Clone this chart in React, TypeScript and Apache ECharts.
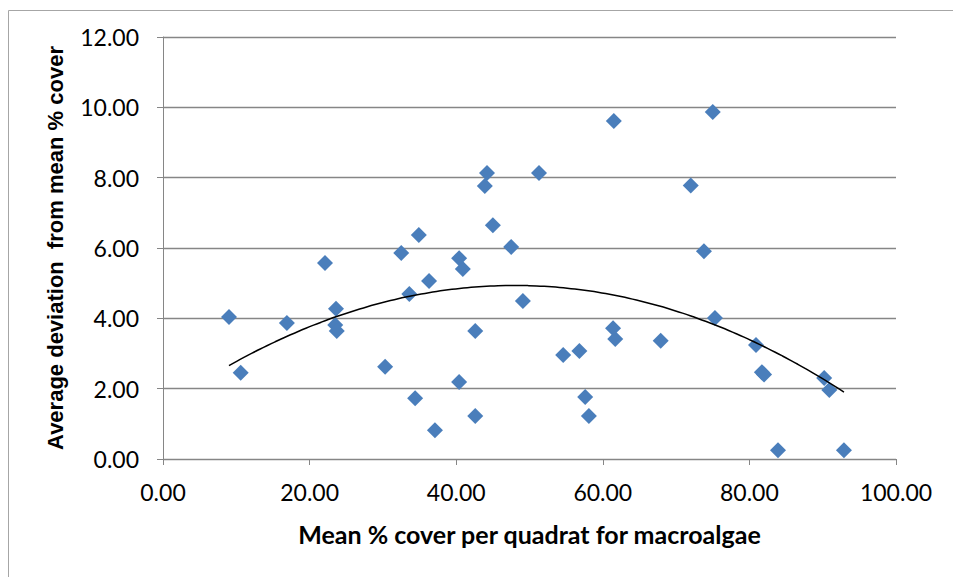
import React, { useEffect, useRef } from "react";
import * as echarts from "echarts";

const coverX: number[] = [
  9.0, 10.6, 16.9, 22.1, 23.6, 23.5, 23.7, 30.3, 32.5, 33.6, 34.9, 36.3, 34.4, 37.1,
  40.4, 40.9, 40.4, 42.6, 42.6, 43.9, 44.2, 45.0, 47.5, 49.1, 51.3, 54.6, 56.8, 57.6,
  58.1, 61.4, 61.7, 61.5, 67.9, 72.0, 73.8, 75.0, 75.3, 80.9, 81.7, 82.0, 83.9, 90.2,
  90.9, 92.9,
];
const deviationY: number[] = [
  4.04, 2.45, 3.87, 5.57, 4.27, 3.81, 3.64, 2.62, 5.86, 4.69, 6.37, 5.06, 1.73, 0.82,
  5.71, 5.4, 2.19, 3.64, 1.22, 7.76, 8.13, 6.65, 6.03, 4.49, 8.13, 2.96, 3.07, 1.76,
  1.22, 3.72, 3.41, 9.61, 3.36, 7.78, 5.91, 9.87, 4.01, 3.24, 2.47, 2.4, 0.25, 2.3,
  1.96, 0.25,
];
const xTicks = { min: 0, max: 100, interval: 20 };
const yTicks = { min: 0, max: 12, interval: 2 };
const xTitle = "Mean % cover per quadrat for macroalgae";
const yTitle = "Average deviation  from mean % cover";

// Least-squares 2nd-order polynomial trendline (as in the spreadsheet)
function quadFit(xs: number[], ys: number[]): [number, number, number] {
  const n = xs.length;
  let s1 = 0, s2 = 0, s3 = 0, s4 = 0, t0 = 0, t1 = 0, t2 = 0;
  for (let i = 0; i < n; i++) {
    const x = xs[i], y = ys[i];
    s1 += x; s2 += x * x; s3 += x * x * x; s4 += x * x * x * x;
    t0 += y; t1 += x * y; t2 += x * x * y;
  }
  const M = [
    [n, s1, s2, t0],
    [s1, s2, s3, t1],
    [s2, s3, s4, t2],
  ];
  for (let c = 0; c < 3; c++) {
    for (let r = c + 1; r < 3; r++) {
      const f = M[r][c] / M[c][c];
      for (let k = c; k < 4; k++) M[r][k] -= f * M[c][k];
    }
  }
  const z = [0, 0, 0];
  for (let r = 2; r >= 0; r--) {
    let s = M[r][3];
    for (let k = r + 1; k < 3; k++) s -= M[r][k] * z[k];
    z[r] = s / M[r][r];
  }
  return [z[0], z[1], z[2]];
}

export default function App() {
  const ref = useRef<HTMLDivElement>(null);
  useEffect(() => {
    if (!ref.current) return;
    const chart = echarts.init(ref.current, undefined, { renderer: "svg" });
    const [a, b, c] = quadFit(coverX, deviationY);
    const xmin = Math.min(...coverX);
    const xmax = Math.max(...coverX);
    const trend: number[][] = [];
    const steps = 80;
    for (let i = 0; i <= steps; i++) {
      const x = xmin + ((xmax - xmin) * i) / steps;
      trend.push([x, a + b * x + c * x * x]);
    }
    const pts = coverX.map((x, i) => [x, deviationY[i]]);
    const axisGray = "#868686";
    chart.setOption({
      animation: false,
      backgroundColor: "#ffffff",
      graphic: [
        {
          type: "rect",
          left: 6,
          top: 8,
          shape: { width: 1000, height: 1000 },
          style: { fill: "none", stroke: "#a6a6a6", lineWidth: 1 },
          silent: true,
        },
      ],
      grid: { left: 163, right: 57, top: 37, bottom: 118 },
      xAxis: {
        type: "value",
        ...xTicks,
        name: xTitle,
        nameLocation: "middle",
        nameGap: 62,
        nameTextStyle: { fontFamily: "Lato", fontWeight: "bold", fontSize: 25, color: "#000" },
        axisLine: { show: true, lineStyle: { color: axisGray, width: 1 } },
        axisTick: { show: true, length: 6, lineStyle: { color: axisGray } },
        splitLine: { show: false },
        axisLabel: {
          formatter: (v: number) => v.toFixed(2),
          fontFamily: "Lato",
          fontSize: 23,
          color: "#000",
          margin: 21,
        },
      },
      yAxis: {
        type: "value",
        ...yTicks,
        name: yTitle,
        nameLocation: "middle",
        nameGap: 97,
        nameTextStyle: {
          fontFamily: "Liberation Sans",
          fontWeight: "bold",
          fontSize: 22,
          color: "#000",
        },
        axisLine: { show: true, lineStyle: { color: axisGray, width: 1 } },
        axisTick: { show: true, length: 6, lineStyle: { color: axisGray } },
        splitLine: { show: true, lineStyle: { color: axisGray, width: 1.3 } },
        axisLabel: {
          formatter: (v: number) => v.toFixed(2),
          fontFamily: "Lato",
          fontSize: 23,
          color: "#000",
          margin: 24,
        },
      },
      series: [
        {
          type: "scatter",
          data: pts,
          symbol: "diamond",
          symbolSize: 16,
          itemStyle: { color: "#4A7EBB", opacity: 1 },
          z: 2,
        },
        {
          type: "line",
          data: trend,
          showSymbol: false,
          symbol: "none",
          smooth: true,
          lineStyle: { color: "#000000", width: 1.5 },
          z: 3,
        },
      ],
    });
    return () => chart.dispose();
  }, []);
  return (
    <div
      ref={ref}
      style={{ position: "absolute", left: 0, top: 0, width: 953, height: 577 }}
    />
  );
}
